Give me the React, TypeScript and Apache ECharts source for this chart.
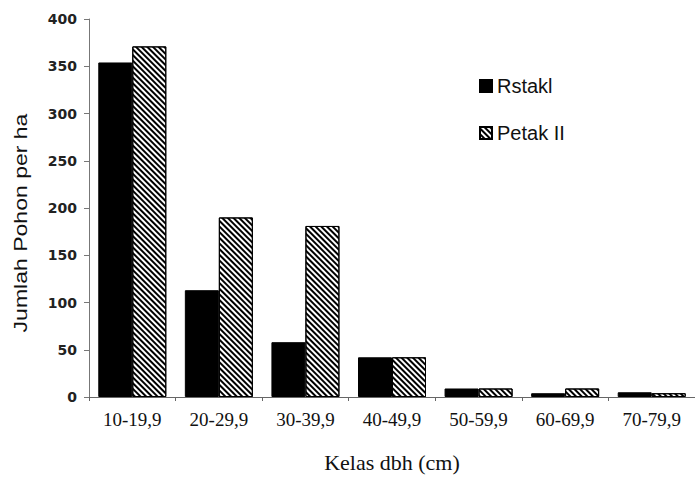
import React, { useEffect, useRef } from "react";
import * as echarts from "echarts";

const categories = ["10-19,9", "20-29,9", "30-39,9", "40-49,9", "50-59,9", "60-69,9", "70-79,9"];
const rstakl = [354, 113, 58, 42, 9, 4, 5];
const petakII = [371, 190, 181, 42, 9, 9, 4];
const yTicks = { min: 0, max: 400, interval: 50 };
const seriesNames = ["Rstakl", "Petak II"];
const xTitle = "Kelas dbh (cm)";
const yTitle = "Jumlah Pohon per ha";

export default function App() {
  const ref = useRef<HTMLDivElement>(null);
  useEffect(() => {
    if (!ref.current) return;
    const chart = echarts.init(ref.current, null, { renderer: "svg" });
    const hatch = {
      symbol: "rect",
      symbolSize: 1,
      color: "#000",
      backgroundColor: "#fff",
      dashArrayX: [1, 0],
      dashArrayY: [1.7, 1.8],
      rotation: Math.PI / 4,
    };
    chart.setOption({
      animation: false,
      backgroundColor: "#fff",
      grid: { left: 89, right: -7, top: 19, bottom: 77, containLabel: false },
      legend: {
        orient: "vertical",
        left: 474,
        top: 71,
        icon: "rect",
        itemWidth: 12,
        itemHeight: 12,
        itemGap: 27,
        textStyle: { fontFamily: "Liberation Sans", fontSize: 20, color: "#111" },
        data: seriesNames,
      },
      xAxis: {
        type: "category",
        data: categories,
        name: xTitle,
        nameLocation: "middle",
        nameGap: 54,
        nameTextStyle: { fontFamily: "Liberation Serif", fontSize: 22, color: "#111" },
        axisLine: { show: true, lineStyle: { color: "#666", width: 1 } },
        axisTick: { show: true, length: 4, lineStyle: { color: "#666" } },
        axisLabel: { fontFamily: "Liberation Serif", fontSize: 19, color: "#111", margin: 13, interval: 0 },
      },
      yAxis: {
        type: "value",
        min: yTicks.min,
        max: yTicks.max,
        interval: yTicks.interval,
        splitLine: { show: false },
        axisLine: { show: true, lineStyle: { color: "#777", width: 1 } },
        axisTick: { show: true, length: 5, lineStyle: { color: "#777" } },
        axisLabel: { fontFamily: "DejaVu Sans", fontWeight: "bold", fontSize: 14, color: "#222", margin: 12 },
      },
      graphic: [
        {
          type: "text",
          x: 20,
          y: 223,
          rotation: Math.PI / 2,
          scaleX: 1.28,
          style: {
            text: yTitle,
            fontFamily: "Liberation Sans",
            fontSize: 18,
            fill: "#111",
            align: "center",
            verticalAlign: "middle",
          },
        },
      ],
      series: [
        {
          name: seriesNames[0],
          type: "bar",
          data: rstakl,
          barWidth: 34,
          barGap: "0%",
          itemStyle: { color: "#000", borderColor: "#000", borderWidth: 1 },
        },
        {
          name: seriesNames[1],
          type: "bar",
          data: petakII,
          barWidth: 34,
          barGap: "0%",
          itemStyle: { color: "#fff", borderColor: "#000", borderWidth: 1, decal: hatch },
        },
      ],
    });
    return () => chart.dispose();
  }, []);
  return <div ref={ref} style={{ width: 695, height: 478, position: "fixed", left: 0, top: 0 }} />;
}
